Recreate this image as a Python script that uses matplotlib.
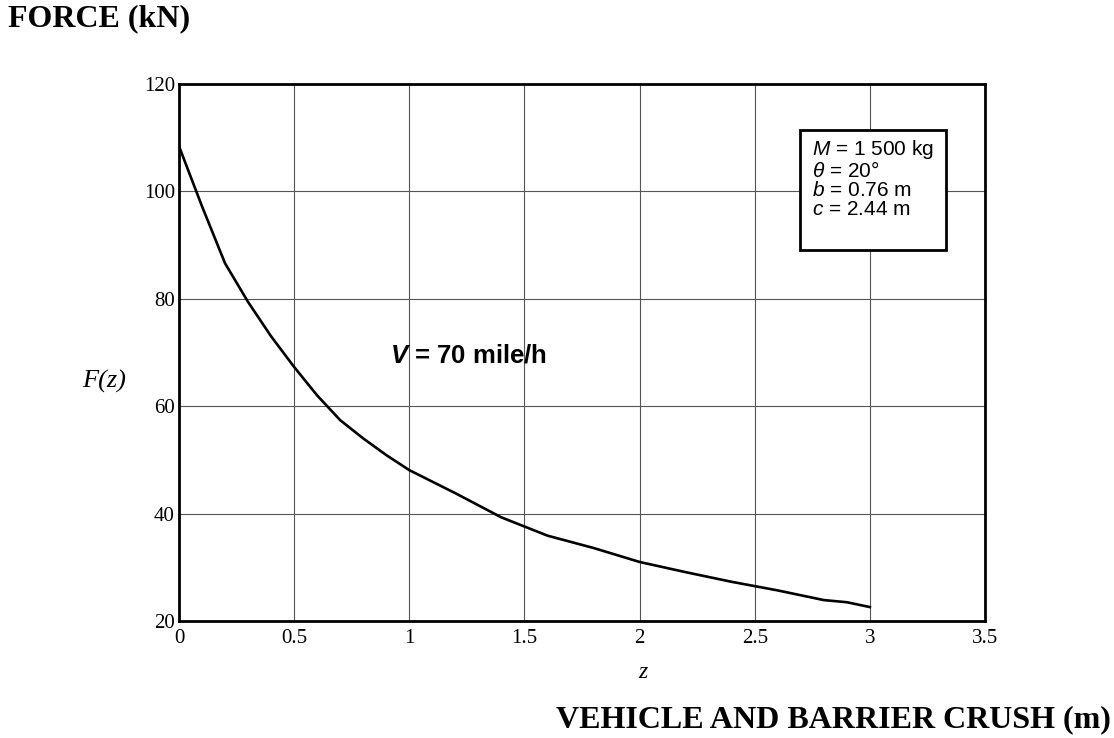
import matplotlib
matplotlib.use("Agg")
import matplotlib.pyplot as plt
from matplotlib.patches import Rectangle

# ── Data ──────────────────────────────────────────────────────────────────────
crush_m = [0.0, 0.1, 0.2, 0.3, 0.4, 0.5, 0.6, 0.7, 0.8, 0.9, 1.0,
           1.2, 1.4, 1.6, 1.8, 2.0, 2.2, 2.4, 2.6, 2.8, 2.9, 3.0]
force_kn = [108.4, 97.2, 86.6, 79.4, 73.0, 67.3, 62.0, 57.4, 54.0, 50.9, 48.1,
            43.8, 39.3, 35.9, 33.6, 31.0, 29.1, 27.3, 25.7, 23.9, 23.5, 22.6]

x_ticks = [0, 0.5, 1, 1.5, 2, 2.5, 3, 3.5]
x_tick_labels = ["0", "0.5", "1", "1.5", "2", "2.5", "3", "3.5"]
y_ticks = [20, 40, 60, 80, 100, 120]

params = ["$M$ = 1 500 kg", r"$\theta$ = 20°", "$b$ = 0.76 m", "$c$ = 2.44 m"]

SERIF = "Liberation Serif"
SANS = "Liberation Sans"
plt.rcParams["mathtext.fontset"] = "custom"
plt.rcParams["mathtext.it"] = "Liberation Sans:italic"
plt.rcParams["mathtext.rm"] = "Liberation Sans"
plt.rcParams["mathtext.sf"] = "Liberation Sans:italic:bold"   # bold italic V

# ── Figure ────────────────────────────────────────────────────────────────────
fig = plt.figure(figsize=(11.14, 7.38), dpi=100, facecolor="white")
ax = fig.add_axes([0.1607, 0.1585, 0.7235, 0.7277])

ax.plot(crush_m, force_kn, color="black", lw=1.9, zorder=3)

ax.set_xlim(0, 3.5)
ax.set_ylim(20, 120)
ax.set_xticks(x_ticks)
ax.set_xticklabels(x_tick_labels)
ax.set_yticks(y_ticks)
ax.tick_params(length=0, labelsize=15, pad=6)
ax.tick_params(axis="y", pad=3)
for lab in ax.get_xticklabels() + ax.get_yticklabels():
    lab.set_fontfamily(SERIF)

ax.grid(True, color="#555555", lw=0.8)
ax.set_axisbelow(True)
for sp in ax.spines.values():
    sp.set_linewidth(2.0)
    sp.set_color("black")

# axis symbols
fig.text(643 / 1114, 1 - 672 / 738, "z", ha="center", va="center",
         fontsize=17, fontstyle="italic", family=SERIF)
fig.text(82 / 1114, 1 - 381 / 738, "F(z)", ha="left", va="center",
         fontsize=19, fontstyle="italic", family=SERIF)

# speed annotation
ax.text(0.916, 69.5, r"$\mathsf{V}$ = 70 mile/h", ha="left", va="center",
        fontsize=18.5, fontweight="bold", family=SANS)

# parameter box
ax.add_patch(Rectangle((2.697, 89.0), 0.632, 22.4, facecolor="white",
                       edgecolor="black", lw=2.0, zorder=5))
ax.text(2.747, 110.0, "\n".join(params), ha="left", va="top", fontsize=15,
        family=SANS, linespacing=1.0, zorder=6)

# outer titles
fig.text(0.007, 1 - 19 / 738, "FORCE (kN)", ha="left", va="center",
         fontsize=23, fontweight="bold", family=SERIF)
fig.text(0.997, 1 - 720 / 738, "VEHICLE AND BARRIER CRUSH (m)", ha="right",
         va="center", fontsize=23, fontweight="bold", family=SERIF)

fig.savefig("out.png", dpi=100, facecolor="white")
